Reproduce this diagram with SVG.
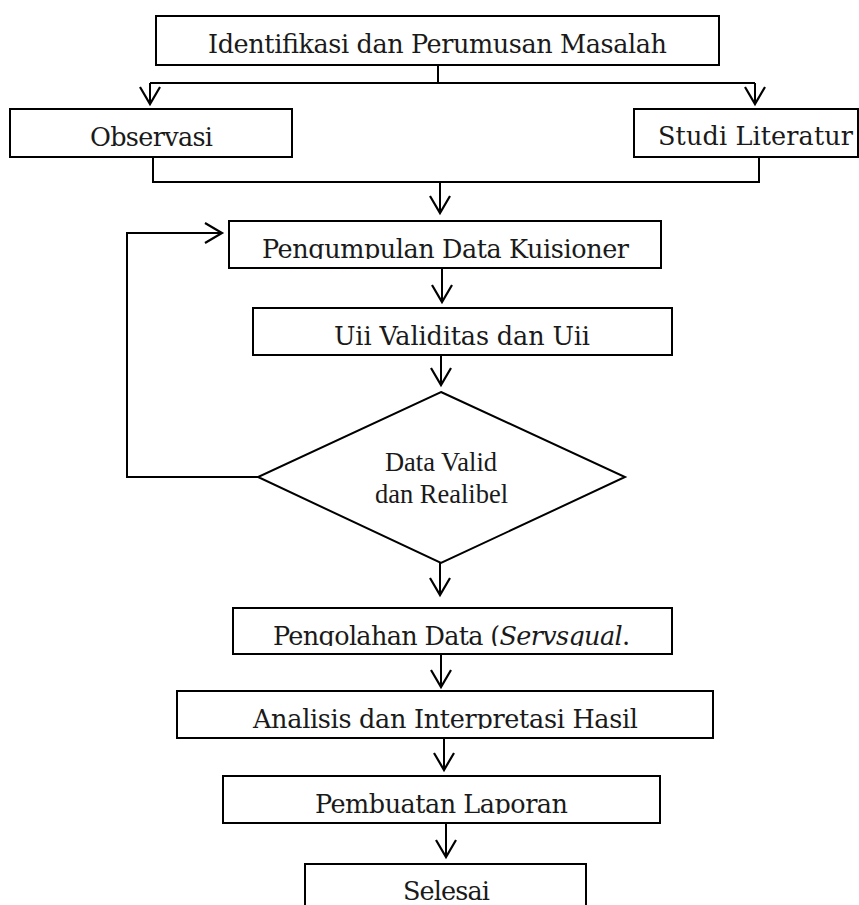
<svg xmlns="http://www.w3.org/2000/svg" width="859" height="905" viewBox="0 0 859 905">
<style>
  .box { fill: #ffffff; stroke: #000000; stroke-width: 2; }
  .lbl { font-family: "DejaVu Serif", "Liberation Serif", serif; font-size: 25.5px; fill: #1a1a1a; text-anchor: middle; }
  .dlbl { font-family: "Liberation Serif", "Times New Roman", serif; font-size: 26.5px; fill: #1a1a1a; text-anchor: middle; }
  .conn { fill: none; stroke: #000000; stroke-width: 2; }
</style>
<defs>
  <marker id="arr" markerUnits="userSpaceOnUse" viewBox="-20 -12 24 24" markerWidth="24" markerHeight="24" refX="0" refY="0" orient="auto" overflow="visible">
    <path d="M-17,-10 L0,0 L-17,10" fill="none" stroke="#000" stroke-width="2.2"/>
  </marker>
  <clipPath id="c1"><rect x="150" y="10" width="580" height="44"/></clipPath>
  <clipPath id="c2"><rect x="5" y="105" width="290" height="42"/></clipPath>
  <clipPath id="c3"><rect x="630" y="105" width="229" height="41"/></clipPath>
  <clipPath id="c4"><rect x="225" y="215" width="440" height="44"/></clipPath>
  <clipPath id="c5"><rect x="250" y="300" width="425" height="46"/></clipPath>
  <clipPath id="c6"><rect x="230" y="600" width="445" height="46"/></clipPath>
  <clipPath id="c7"><rect x="170" y="685" width="550" height="44"/></clipPath>
  <clipPath id="c8"><rect x="220" y="770" width="445" height="44"/></clipPath>
  <clipPath id="c9"><rect x="300" y="860" width="290" height="45"/></clipPath>
</defs>

<g id="connectors">
  <path class="conn" d="M438,65 V83 M150,83 H755"/>
  <path class="conn" d="M150,83 V104" marker-end="url(#arr)"/>
  <path class="conn" d="M755,83 V104" marker-end="url(#arr)"/>
  <path class="conn" d="M153,157 V182 H759 V157"/>
  <path class="conn" d="M440,182 V213" marker-end="url(#arr)"/>
  <path class="conn" d="M442,268 V302" marker-end="url(#arr)"/>
  <path class="conn" d="M441,355 V385" marker-end="url(#arr)"/>
  <path class="conn" d="M258,477 H127 V233 H222" marker-end="url(#arr)"/>
  <path class="conn" d="M440,563 V595" marker-end="url(#arr)"/>
  <path class="conn" d="M441,655 V687" marker-end="url(#arr)"/>
  <path class="conn" d="M444,738 V770" marker-end="url(#arr)"/>
  <path class="conn" d="M446,823 V857" marker-end="url(#arr)"/>
</g>

<g id="identifikasi">
  <rect class="box" x="156" y="16" width="563" height="49"/>
  <text class="lbl" x="437.5" y="53" textLength="459" clip-path="url(#c1)">Identifikasi dan Perumusan Masalah</text>
</g>
<g id="observasi">
  <rect class="box" x="10" y="109" width="282" height="48"/>
  <text class="lbl" x="151.5" y="146" textLength="123" clip-path="url(#c2)">Observasi</text>
</g>
<g id="studi-literatur">
  <rect class="box" x="634" y="109" width="224" height="48"/>
  <text class="lbl" x="755.5" y="145" textLength="195" clip-path="url(#c3)">Studi Literatur</text>
</g>
<g id="pengumpulan">
  <rect class="box" x="229" y="221" width="432" height="47"/>
  <text class="lbl" x="445.5" y="258" textLength="367" clip-path="url(#c4)">Pengumpulan Data Kuisioner</text>
</g>
<g id="uji">
  <rect class="box" x="253" y="308" width="419" height="47"/>
  <text class="lbl" x="462" y="345" textLength="256" clip-path="url(#c5)">Uii Validitas dan Uii</text>
</g>
<g id="keputusan">
  <polygon class="box" points="441,392 625,477 441,563 258,477"/>
  <text class="dlbl" x="441" y="471">Data Valid</text>
  <text class="dlbl" x="441.5" y="503">dan Realibel</text>
</g>
<g id="pengolahan">
  <rect class="box" x="233" y="608" width="439" height="46"/>
  <text class="lbl" x="451.5" y="645" textLength="357" clip-path="url(#c6)">Pengolahan Data (<tspan font-style="italic">Servsqual</tspan>.</text>
</g>
<g id="analisis">
  <rect class="box" x="177" y="691" width="536" height="47"/>
  <text class="lbl" x="445.5" y="728" textLength="385" clip-path="url(#c7)">Analisis dan Interpretasi Hasil</text>
</g>
<g id="pembuatan">
  <rect class="box" x="223" y="776" width="437" height="47"/>
  <text class="lbl" x="441.5" y="813" textLength="253" clip-path="url(#c8)">Pembuatan Laporan</text>
</g>
<g id="selesai">
  <rect class="box" x="305" y="864" width="281" height="60"/>
  <text class="lbl" x="446.5" y="900" textLength="87" clip-path="url(#c9)">Selesai</text>
</g>
</svg>
